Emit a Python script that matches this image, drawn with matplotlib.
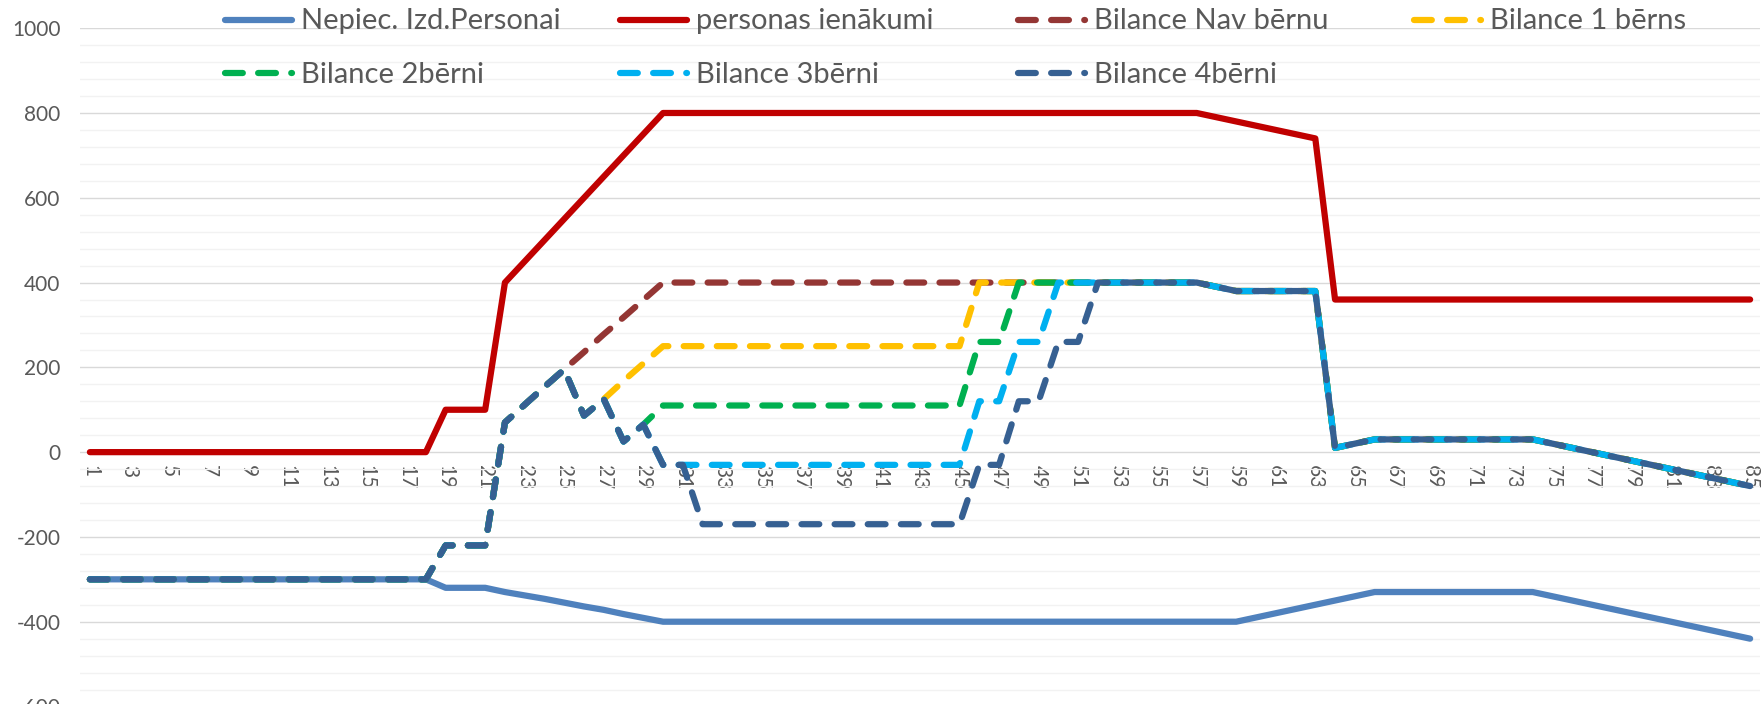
import numpy as np
import matplotlib.pyplot as plt
from matplotlib.ticker import MultipleLocator
from matplotlib.lines import Line2D

plt.rcParams['font.family'] = ['Lato', 'DejaVu Sans']
plt.rcParams['axes.unicode_minus'] = False

# age axis (categories)
age = np.arange(1, 86)

nepiec = [-300, -300, -300, -300, -300, -300, -300, -300, -300, -300,
          -300, -300, -300, -300, -300, -300, -300, -300, -320, -320,
          -320, -330, -338, -346, -355, -364, -372, -382, -391, -400,
          -400, -400, -400, -400, -400, -400, -400, -400, -400, -400,
          -400, -400, -400, -400, -400, -400, -400, -400, -400, -400,
          -400, -400, -400, -400, -400, -400, -400, -400, -400, -390,
          -380, -370, -360, -350, -340, -330, -330, -330, -330, -330,
          -330, -330, -330, -330, -340, -350, -360, -370, -380, -390,
          -400, -410, -420, -430, -440]

ienakumi = [0, 0, 0, 0, 0, 0, 0, 0, 0, 0,
            0, 0, 0, 0, 0, 0, 0, 0, 100, 100,
            100, 400, 450, 500, 550, 600, 650, 700, 750, 800,
            800, 800, 800, 800, 800, 800, 800, 800, 800, 800,
            800, 800, 800, 800, 800, 800, 800, 800, 800, 800,
            800, 800, 800, 800, 800, 800, 800, 790, 780, 770,
            760, 750, 740, 360, 360, 360, 360, 360, 360, 360,
            360, 360, 360, 360, 360, 360, 360, 360, 360, 360,
            360, 360, 360, 360, 360]

bil_0 = [-300, -300, -300, -300, -300, -300, -300, -300, -300, -300,
         -300, -300, -300, -300, -300, -300, -300, -300, -220, -220,
         -220, 70, 112, 154, 195, 236, 278, 318, 359, 400,
         400, 400, 400, 400, 400, 400, 400, 400, 400, 400,
         400, 400, 400, 400, 400, 400, 400, 400, 400, 400,
         400, 400, 400, 400, 400, 400, 400, 390, 380, 380,
         380, 380, 380, 10, 20, 30, 30, 30, 30, 30,
         30, 30, 30, 30, 20, 10, 0, -10, -20, -30,
         -40, -50, -60, -70, -80]

bil_1 = [-300, -300, -300, -300, -300, -300, -300, -300, -300, -300,
         -300, -300, -300, -300, -300, -300, -300, -300, -220, -220,
         -220, 70, 112, 154, 195, 86, 125, 168, 209, 250,
         250, 250, 250, 250, 250, 250, 250, 250, 250, 250,
         250, 250, 250, 250, 250, 400, 400, 400, 400, 400,
         400, 400, 400, 400, 400, 400, 400, 390, 380, 380,
         380, 380, 380, 10, 20, 30, 30, 30, 30, 30,
         30, 30, 30, 30, 20, 10, 0, -10, -20, -30,
         -40, -50, -60, -70, -80]

bil_2 = [-300, -300, -300, -300, -300, -300, -300, -300, -300, -300,
         -300, -300, -300, -300, -300, -300, -300, -300, -220, -220,
         -220, 70, 112, 154, 195, 86, 125, 25, 65, 110,
         110, 110, 110, 110, 110, 110, 110, 110, 110, 110,
         110, 110, 110, 110, 110, 260, 260, 400, 400, 400,
         400, 400, 400, 400, 400, 400, 400, 390, 380, 380,
         380, 380, 380, 10, 20, 30, 30, 30, 30, 30,
         30, 30, 30, 30, 20, 10, 0, -10, -20, -30,
         -40, -50, -60, -70, -80]

bil_3 = [-300, -300, -300, -300, -300, -300, -300, -300, -300, -300,
         -300, -300, -300, -300, -300, -300, -300, -300, -220, -220,
         -220, 70, 112, 154, 195, 86, 125, 25, 65, -30,
         -30, -30, -30, -30, -30, -30, -30, -30, -30, -30,
         -30, -30, -30, -30, -30, 120, 120, 260, 260, 400,
         400, 400, 400, 400, 400, 400, 400, 390, 380, 380,
         380, 380, 380, 10, 20, 30, 30, 30, 30, 30,
         30, 30, 30, 30, 20, 10, 0, -10, -20, -30,
         -40, -50, -60, -70, -80]

bil_4 = [-300, -300, -300, -300, -300, -300, -300, -300, -300, -300,
         -300, -300, -300, -300, -300, -300, -300, -300, -220, -220,
         -220, 70, 112, 154, 195, 86, 125, 25, 65, -30,
         -30, -170, -170, -170, -170, -170, -170, -170, -170, -170,
         -170, -170, -170, -170, -170, -30, -30, 120, 120, 260,
         260, 400, 400, 400, 400, 400, 400, 390, 380, 380,
         380, 380, 380, 10, 20, 30, 30, 30, 30, 30,
         30, 30, 30, 30, 20, 10, 0, -10, -20, -30,
         -40, -50, -60, -70, -80]

names = ["Nepiec. Izd.Personai", "personas ienākumi", "Bilance Nav bērnu", "Bilance 1 bērns",
         "Bilance 2bērni", "Bilance 3bērni", "Bilance 4bērni"]
colors = ['#4F81BD', '#C00000', '#943634', '#FFC000', '#00B050', '#00B0F0', '#366092']
dashed = [False, False, True, True, True, True, True]
series = [nepiec, ienakumi, bil_0, bil_1, bil_2, bil_3, bil_4]

W, H = 1762, 704
fig = plt.figure(figsize=(W / 100, H / 100), dpi=100)
ax = fig.add_axes([80 / W, -2.5 / H, 1680 / W, 678.3 / H])

lw = 4.5
dash = (2.85, 2.45)
lineStyle = dict(lw=lw, solid_capstyle='round', dash_capstyle='round',
                 solid_joinstyle='round', dash_joinstyle='round')

for vals, col, d in zip(series, colors, dashed):
    if d:
        ax.plot(age, vals, color=col, dashes=dash, **lineStyle)
    else:
        ax.plot(age, vals, color=col, **lineStyle)

ax.set_xlim(0.5, 85.5)
ax.set_ylim(-600, 1000)
yt = list(range(-600, 1001, 200))
ax.set_yticks(yt)
ax.set_yticklabels([str(v) for v in yt])
ax.yaxis.set_minor_locator(MultipleLocator(40))
ax.set_axisbelow(True)
ax.grid(which='major', axis='y', color='#D9D9D9', lw=1.0)
ax.grid(which='minor', axis='y', color='#F2F2F2', lw=1.0)
ax.set_xticks(age[::2])
ax.set_xticklabels([str(a) for a in age[::2]])
for s in ax.spines.values():
    s.set_visible(False)
ax.spines['bottom'].set_position(('data', 0))
ax.tick_params(axis='x', length=0, pad=9, labelsize=15, labelcolor='#595959', labelrotation=270)
ax.tick_params(axis='y', which='both', length=0, pad=14, labelsize=15, labelcolor='#595959')

# legend drawn by hand (equal Excel-style columns)
leg_x = [222, 617, 1015, 1411]
leg_base = [29, 83]
leg_mid = [20, 73]
for i, (lab, col, d) in enumerate(zip(names, colors, dashed)):
    r, c = divmod(i, 4)
    x0 = leg_x[c] + 3
    kw = dict(color=col, transform=fig.transFigure, **lineStyle)
    if d:
        kw['dashes'] = dash
    fig.add_artist(Line2D([x0 / W, (x0 + 66.5) / W], [1 - leg_mid[r] / H] * 2, **kw))
    fig.text((leg_x[c] + 79) / W, 1 - leg_base[r] / H, lab, fontsize=21,
             color='#595959', va='baseline', ha='left')

fig.savefig('out.png', dpi=100)
